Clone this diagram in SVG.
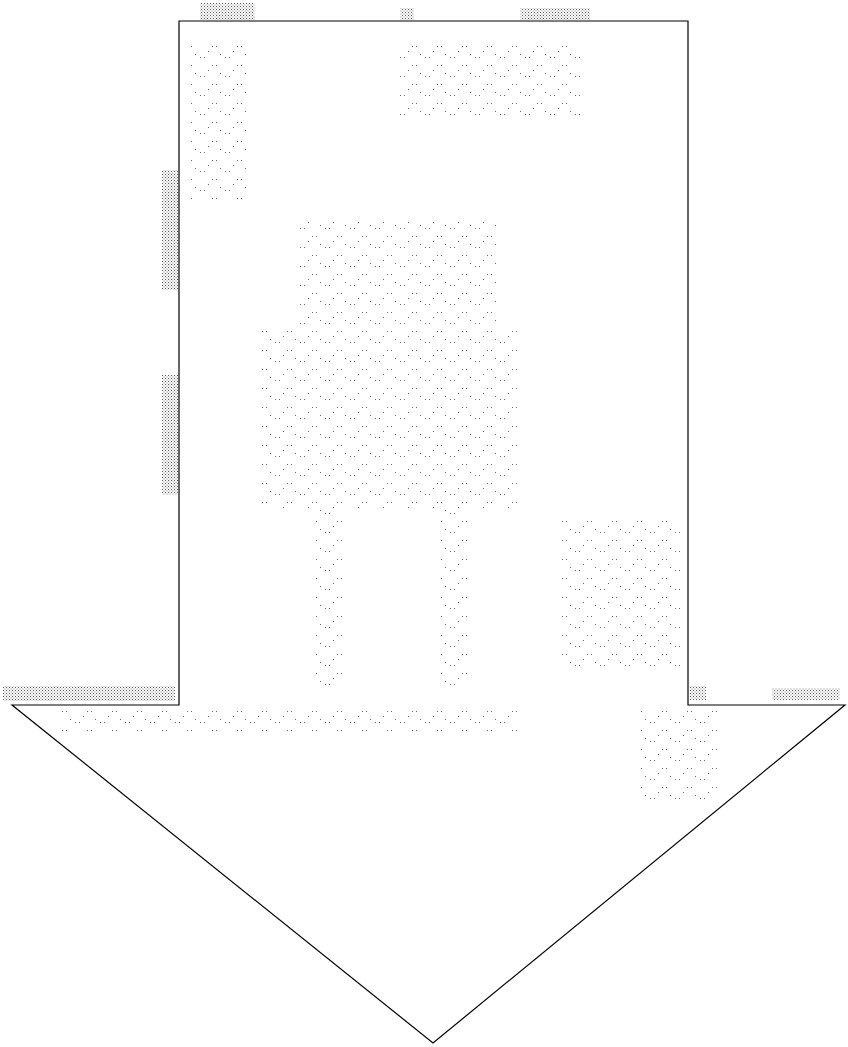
<svg xmlns="http://www.w3.org/2000/svg" width="848" height="1047" viewBox="0 0 848 1047">
<style>
.outline{fill:#ffffff;stroke:#000000;stroke-width:1.2;stroke-linejoin:miter}
.dense{fill:url(#dots)}
.sparse{fill:url(#sdots)}
</style>
<defs>
<pattern id="dots" width="3" height="3" patternUnits="userSpaceOnUse">
<rect x="0" y="0" width="1" height="1" fill="#555"/>
<rect x="1.5" y="1.5" width="1" height="1" fill="#777"/>
</pattern>
<pattern id="sdots" width="25" height="19" patternUnits="userSpaceOnUse">
<rect x="0" y="0" width="1" height="1" fill="#666"/>
<rect x="4" y="0" width="1" height="1" fill="#666"/>
<rect x="12" y="8" width="1" height="1" fill="#666"/>
<rect x="16" y="8" width="1" height="1" fill="#666"/>
<rect x="8" y="13" width="1" height="1" fill="#666"/>
<rect x="20" y="16" width="1" height="1" fill="#666"/>
</pattern>
</defs>
<rect width="848" height="1047" fill="#ffffff"/>
<g id="arrow">
<polygon class="outline" points="179,21 688,21 688,705 845,705 433,1043 12,705 179,705"/>
</g>
<g id="texture">
<rect class="dense" x="3" y="686" width="172" height="15"/>
<rect class="dense" x="690" y="686" width="16" height="14"/>
<rect class="dense" x="772" y="688" width="68" height="12"/>
<rect class="dense" x="200" y="3" width="55" height="17"/>
<rect class="dense" x="400" y="8" width="14" height="12"/>
<rect class="dense" x="520" y="8" width="70" height="12"/>
<rect class="dense" x="162" y="170" width="16" height="120"/>
<rect class="dense" x="162" y="375" width="16" height="120"/>
<rect class="sparse" x="260" y="330" width="260" height="180"/>
<rect class="sparse" x="300" y="220" width="200" height="110"/>
<rect class="sparse" x="315" y="505" width="30" height="180"/>
<rect class="sparse" x="440" y="505" width="30" height="180"/>
<rect class="sparse" x="560" y="520" width="120" height="150"/>
<rect class="sparse" x="190" y="40" width="60" height="160"/>
<rect class="sparse" x="400" y="40" width="180" height="80"/>
<rect class="sparse" x="60" y="705" width="460" height="30"/>
<rect class="sparse" x="640" y="710" width="80" height="90"/>
</g>
<g id="connectors"></g>
</svg>
